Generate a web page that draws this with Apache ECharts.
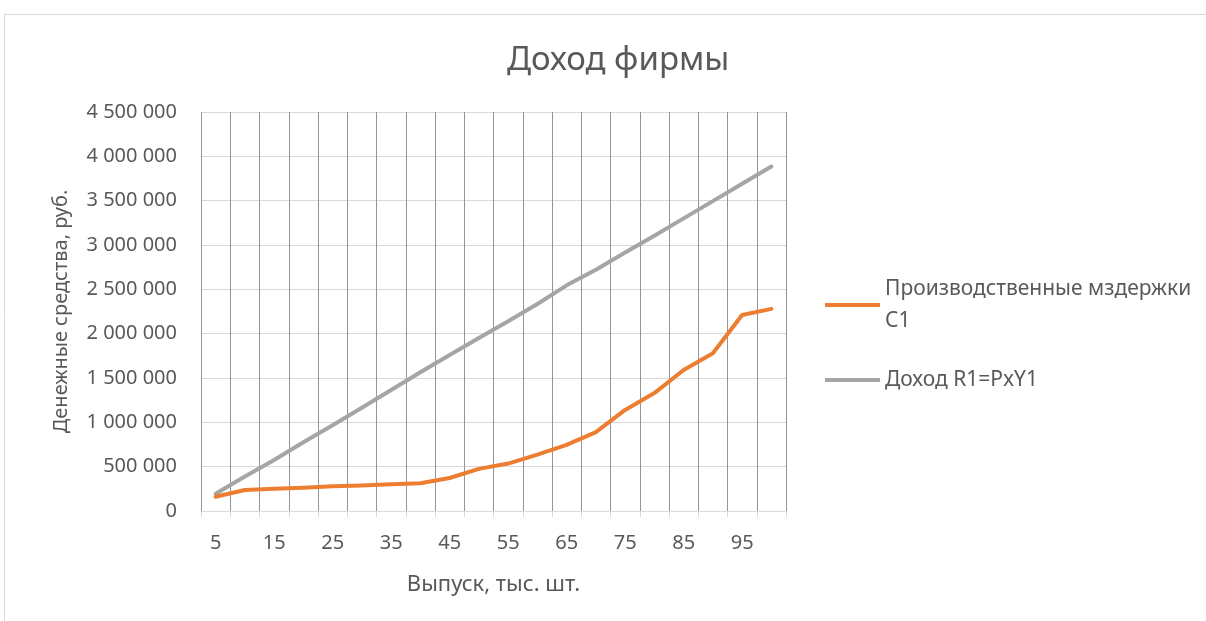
<!DOCTYPE html>
<html>
<head>
<meta charset="utf-8">
<script src="https://cdn.jsdelivr.net/npm/echarts@6/dist/echarts.min.js"></script>
<style>
html,body{margin:0;padding:0;background:#fff;}
#chart{width:1206px;height:621px;}
</style>
</head>
<body>
<div id="chart"></div>
<script>
const categories = ['5','10','15','20','25','30','35','40','45','50','55','60','65','70','75','80','85','90','95','100'];
const costC1 = [160000, 237000, 250000, 263000, 280000, 288000, 302000, 312000, 372000, 475000, 535000, 635000, 745000, 890000, 1140000, 1330000, 1590000, 1780000, 2210000, 2280000];
const revenueR1 = [195000, 389000, 575000, 775000, 968000, 1165000, 1365000, 1565000, 1760000, 1950000, 2140000, 2335000, 2545000, 2720000, 2915000, 3105000, 3300000, 3495000, 3690000, 3885000];
const seriesNames = ['Производственные мздержки\nС1', 'Доход R1=PxY1'];
const titleText = 'Доход фирмы';
const xAxisName = 'Выпуск, тыс. шт.';
const yAxisName = 'Денежные средства, руб.';

const FONT = 'Noto Sans';
const TXT = '#595959';
const chart = echarts.init(document.getElementById('chart'), null, {renderer: 'canvas'});
chart.setOption({
  animation: false,
  backgroundColor: '#fff',
  graphic: [{
    type: 'rect', silent: true, z: -10,
    shape: {x: 4.5, y: 14.5, width: 1400, height: 800},
    style: {fill: 'none', stroke: '#d9d9d9', lineWidth: 1}
  }],
  title: {
    text: titleText, left: 502, top: 39,
    textStyle: {fontFamily: FONT, fontSize: 33, fontWeight: 'normal', color: TXT}
  },
  grid: {left: 201, right: 420, top: 112, bottom: 110, containLabel: false},
  legend: [{
    data: [seriesNames[0]], orient: 'vertical', left: 825, top: 257.75, padding: 0,
    icon: 'rect', itemWidth: 55, itemHeight: 4,
    textStyle: {fontFamily: FONT, fontSize: 21, color: TXT, lineHeight: 31.5, padding: [31.5, 0, 0, 0]}
  }, {
    data: [seriesNames[1]], orient: 'vertical', left: 825, top: 364.25, padding: 0,
    icon: 'rect', itemWidth: 55, itemHeight: 4,
    textStyle: {fontFamily: FONT, fontSize: 21, color: TXT, lineHeight: 31.5}
  }],
  xAxis: {
    type: 'category', data: categories, boundaryGap: true,
    name: xAxisName, nameLocation: 'middle', nameGap: 63,
    nameTextStyle: {fontFamily: FONT, fontSize: 22, color: TXT},
    axisLine: {lineStyle: {color: '#d9d9d9', width: 1}},
    axisTick: {show: true, interval: 0, length: 6, lineStyle: {color: '#d9d9d9'}},
    axisLabel: {interval: 1, fontFamily: FONT, fontSize: 20, color: TXT, margin: 22},
    splitLine: {show: true, interval: 0, lineStyle: {color: '#959595', width: 1}}
  },
  yAxis: {
    type: 'value', min: 0, max: 4500000, interval: 500000,
    name: yAxisName, nameLocation: 'middle', nameGap: 130, nameRotate: 90,
    nameTextStyle: {fontFamily: FONT, fontSize: 20, color: TXT},
    axisLine: {show: false}, axisTick: {show: false},
    axisLabel: {fontFamily: FONT, fontSize: 20, color: TXT, margin: 24,
      formatter: v => String(v).replace(/\B(?=(\d{3})+(?!\d))/g, ' ')},
    splitLine: {lineStyle: {color: '#d9d9d9', width: 1}}
  },
  series: [{
    name: seriesNames[0], type: 'line', data: costC1, showSymbol: false, symbol: 'none',
    lineStyle: {color: '#ED7D31', width: 4, cap: 'round', join: 'round'}, itemStyle: {color: '#ED7D31'}, z: 3
  }, {
    name: seriesNames[1], type: 'line', data: revenueR1, showSymbol: false, symbol: 'none',
    lineStyle: {color: '#A5A5A5', width: 4, cap: 'round', join: 'round'}, itemStyle: {color: '#A5A5A5'}, z: 2
  }]
});
</script>
</body>
</html>
